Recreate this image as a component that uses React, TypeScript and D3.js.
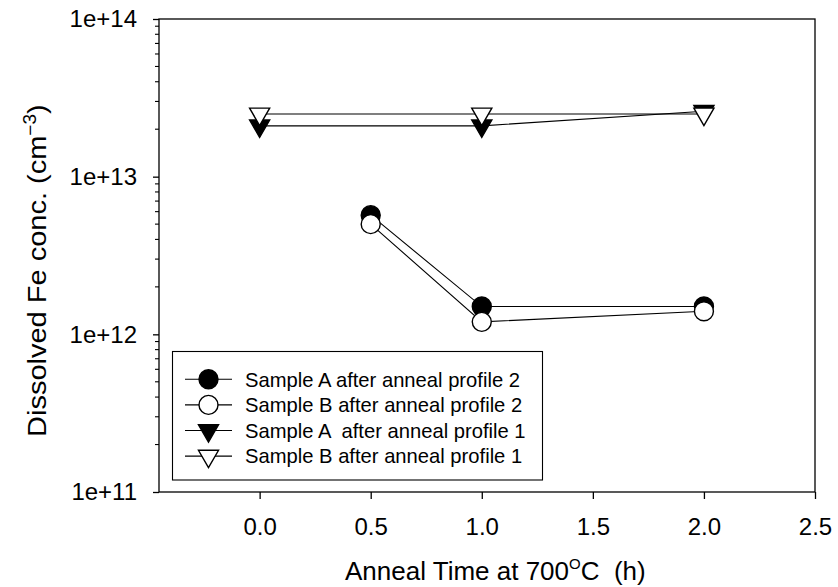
import React, { useEffect, useRef } from 'react'
import * as d3 from 'd3'

// anneal time (h)
const timesProfile2 = [0.5, 1.0, 2.0]
const timesProfile1 = [0.0, 1.0, 2.0]

// dissolved Fe concentration (cm^-3)
const sampleAProfile2 = [5.7e12, 1.5e12, 1.5e12]
const sampleBProfile2 = [5.0e12, 1.2e12, 1.4e12]
const sampleAProfile1 = [2.1e13, 2.1e13, 2.6e13]
const sampleBProfile1 = [2.5e13, 2.5e13, 2.5e13]

const xTicks = [0, 0.5, 1.0, 1.5, 2.0, 2.5]
const yDecades = [1e11, 1e12, 1e13, 1e14]

const seriesNames = [
  'Sample A after anneal profile 2',
  'Sample B after anneal profile 2',
  'Sample A  after anneal profile 1',
  'Sample B after anneal profile 1',
]

const FONT = "'Liberation Sans', Arial, Helvetica, sans-serif"

export default function App() {
  const svgRef = useRef<SVGSVGElement | null>(null)

  useEffect(() => {
    const width = 838, height = 587
    const left = 159, right = 815, top = 19, bottom = 492
    const svg = d3.select(svgRef.current).attr('width', width).attr('height', height)
    svg.selectAll('*').remove()

    const x = d3.scaleLinear().domain([-0.453, 2.5]).range([left, right])
    const y = d3.scaleLog().domain([1e11, 1e14]).range([bottom, top])

    const series = [
      { name: seriesNames[0], xs: timesProfile2, ys: sampleAProfile2, shape: 'circle', fill: '#000' },
      { name: seriesNames[1], xs: timesProfile2, ys: sampleBProfile2, shape: 'circle', fill: '#fff' },
      { name: seriesNames[2], xs: timesProfile1, ys: sampleAProfile1, shape: 'tri', fill: '#000' },
      { name: seriesNames[3], xs: timesProfile1, ys: sampleBProfile1, shape: 'tri', fill: '#fff' },
    ]

    const triPath = d3.symbol(d3.symbolTriangle, 175)()
    const drawMarker = (g: any, shape: string, fill: string, cx: number, cy: number) => {
      if (shape === 'circle') {
        g.append('circle').attr('cx', cx).attr('cy', cy).attr('r', 9.5)
          .attr('fill', fill).attr('stroke', '#000').attr('stroke-width', 1.4)
      } else {
        g.append('path').attr('d', triPath)
          .attr('transform', `translate(${cx},${cy}) rotate(180)`)
          .attr('fill', fill).attr('stroke', '#000').attr('stroke-width', 1.4)
      }
    }

    // data lines
    const line = d3.line<[number, number]>().x(d => x(d[0])).y(d => y(d[1]))
    series.forEach(s => {
      svg.append('path').datum(s.xs.map((v, i) => [v, s.ys[i]] as [number, number]))
        .attr('d', line).attr('fill', 'none').attr('stroke', '#000').attr('stroke-width', 1.1)
    })
    // markers
    const mg = svg.append('g')
    series.forEach(s => {
      s.xs.forEach((v, i) => drawMarker(mg, s.shape, s.fill, x(v), y(s.ys[i])))
    })

    // frame
    svg.append('rect').attr('x', left).attr('y', top).attr('width', right - left).attr('height', bottom - top)
      .attr('fill', 'none').attr('stroke', '#000').attr('stroke-width', 1.3)

    // x axis
    const xAxis = svg.append('g').attr('transform', `translate(0,${bottom})`)
      .call(d3.axisBottom(x).tickValues(xTicks).tickSize(7).tickSizeOuter(0).tickPadding(19).tickFormat(d3.format('.1f')))
    xAxis.select('.domain').remove()
    xAxis.selectAll('line').attr('stroke-width', 1.3)
    xAxis.selectAll('text').attr('font-size', 24).attr('font-family', FONT).attr('fill', '#000')

    // y axis, majors
    const yAxis = svg.append('g').attr('transform', `translate(${left},0)`)
      .call(d3.axisLeft(y).tickValues(yDecades).tickSize(6).tickSizeOuter(0).tickPadding(16)
        .tickFormat((d: any) => `1e+${Math.round(Math.log10(d))}`))
    yAxis.select('.domain').remove()
    yAxis.selectAll('line').attr('stroke-width', 1.3)
    yAxis.selectAll('text').attr('font-size', 24).attr('font-family', FONT).attr('fill', '#000')

    // y minor ticks
    const minor: number[] = []
    yDecades.slice(0, -1).forEach(dec => { for (let k = 2; k <= 9; k++) minor.push(dec * k) })
    svg.append('g').selectAll('line').data(minor).join('line')
      .attr('x1', left - 4).attr('x2', left).attr('y1', d => y(d)).attr('y2', d => y(d))
      .attr('stroke', '#000').attr('stroke-width', 1.1)

    // axis titles
    const xt = svg.append('text').attr('x', 345).attr('y', 580).attr('font-family', FONT).attr('font-size', 26)
      .attr('fill', '#000').attr('xml:space', 'preserve').style('white-space', 'pre')
    xt.append('tspan').text('Anneal Time at 700')
    xt.append('tspan').attr('font-size', 15).attr('dy', -11).text('O')
    xt.append('tspan').attr('dy', 11).text('C  (h)')

    const yt = svg.append('text').attr('transform', 'translate(45.5,437) rotate(-90) scale(1,0.92)')
      .attr('font-family', FONT).attr('font-size', 29).attr('fill', '#000')
    yt.append('tspan').text('Dissolved Fe conc. (cm')
    yt.append('tspan').attr('font-size', 19).attr('dy', -10).text('\u22123')
    yt.append('tspan').attr('dy', 10).text(')')

    // legend
    const lg = svg.append('g')
    lg.append('rect').attr('x', 172.5).attr('y', 351.5).attr('width', 370).attr('height', 128.5)
      .attr('fill', '#fff').attr('stroke', '#000').attr('stroke-width', 1.1)
    series.forEach((s, i) => {
      const cy = 379.3 + i * 25.6
      lg.append('line').attr('x1', 185).attr('x2', 232).attr('y1', cy).attr('y2', cy)
        .attr('stroke', '#000').attr('stroke-width', 1.1)
      drawMarker(lg, s.shape, s.fill, 208.5, cy)
      lg.append('text').attr('x', 245).attr('y', cy + 7.3).attr('font-family', FONT).attr('font-size', 20.2)
        .attr('fill', '#000').attr('xml:space', 'preserve').style('white-space', 'pre').text(s.name)
    })
  }, [])

  return (
    <div style={{ position: 'absolute', left: 0, top: 0 }}>
      <svg ref={svgRef} style={{ display: 'block', background: '#fff' }}></svg>
    </div>
  )
}
